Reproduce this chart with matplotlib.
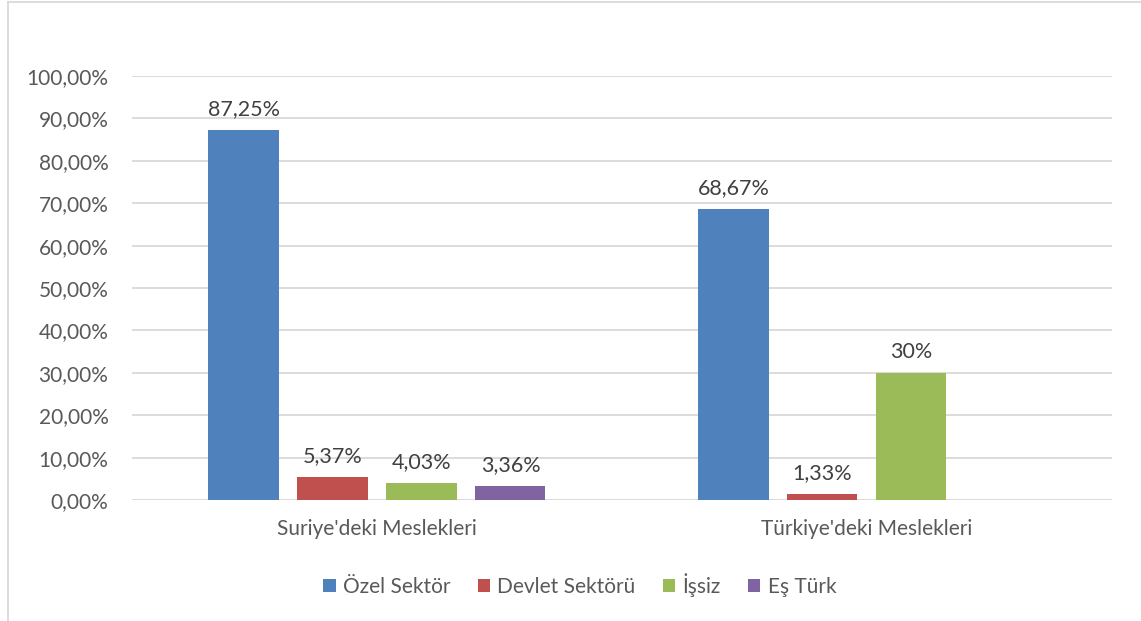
import numpy as np
import matplotlib
matplotlib.use("Agg")
import matplotlib.pyplot as plt
from matplotlib.ticker import MultipleLocator, FuncFormatter

plt.rcParams["font.family"] = ["Lato", "DejaVu Sans"]

categories = ["Suriye'deki Meslekleri", "Türkiye'deki Meslekleri"]
series = ["Özel Sektör", "Devlet Sektörü", "İşsiz", "Eş Türk"]
ozel = [87.25, 68.67]
devlet = [5.37, 1.33]
issiz = [4.03, 30.0]
es_turk = [3.36, np.nan]
labels = [["87,25%", "68,67%"], ["5,37%", "1,33%"], ["4,03%", "30%"], ["3,36%", ""]]
colors = ["#4F81BD", "#C0504D", "#9BBB59", "#8064A2"]

values = [ozel, devlet, issiz, es_turk]

fig = plt.figure(figsize=(11.41, 6.21), dpi=100)
ax = fig.add_axes([0.1157, 0.1948, 0.8588, 0.6828])

x = np.arange(len(categories))
width = 0.143
step = 0.1816
for i, (vals, col, name) in enumerate(zip(values, colors, series)):
    pos = x + (i - 1.5) * step
    bars = ax.bar(pos, vals, width=width, color=col, label=name, zorder=3)
    for b, v, lab in zip(bars, vals, labels[i]):
        if lab:
            ax.text(b.get_x() + b.get_width() / 2, v + 2.6, lab, ha="center",
                    va="bottom", fontsize=15.5, color="#404040")

ax.set_xlim(-0.5, 1.5)
ax.set_ylim(0, 100)
ax.yaxis.set_major_locator(MultipleLocator(10))
ax.yaxis.set_major_formatter(FuncFormatter(lambda v, p: f"{v:.2f}".replace(".", ",") + "%"))
ax.set_xticks(x)
ax.set_xticklabels(categories)
ax.tick_params(axis="both", length=0, labelsize=15, colors="#595959")
ax.tick_params(axis="x", pad=14)
ax.tick_params(axis="y", pad=17)
ax.grid(axis="y", color="#D9D9D9", linewidth=1.3, zorder=0)
for s in ax.spines.values():
    s.set_visible(False)

ax.legend(loc="center", bbox_to_anchor=(0.457, -0.2), ncol=4, frameon=False,
          fontsize=15, labelcolor="#595959", handlelength=0.6, handleheight=0.6,
          handletextpad=0.35, columnspacing=1.3)

# light frame of the chart area
fig.add_artist(plt.Line2D([0.007, 0.007], [0, 0.997], color="#D9D9D9", lw=1.3))
fig.add_artist(plt.Line2D([0.007, 1.0], [0.997, 0.997], color="#D9D9D9", lw=1.3))

fig.savefig("out.png", dpi=100)
